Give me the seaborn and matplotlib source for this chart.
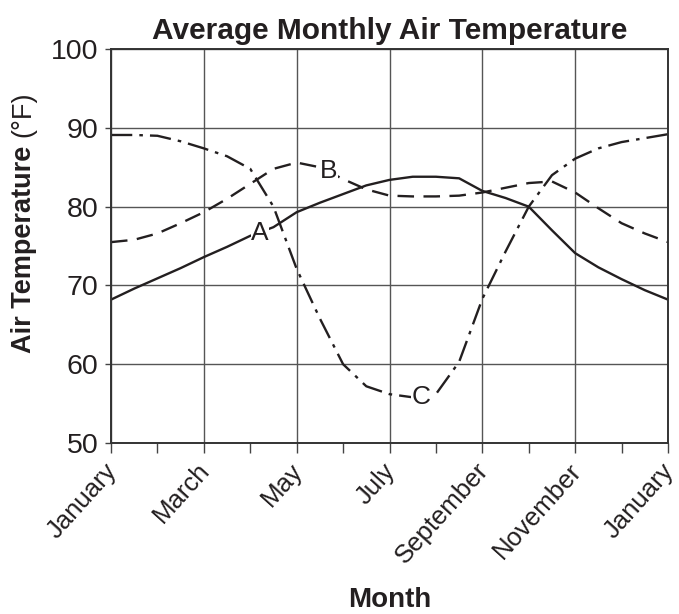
import numpy as np
import pandas as pd
import seaborn as sns
import matplotlib.pyplot as plt
from matplotlib.transforms import ScaledTranslation

# month positions (0 = January, 12 = next January), read every half month
months = [0, 0.5, 1, 1.5, 2, 2.5, 3, 3.5, 4, 4.5, 5, 5.5, 6,
          6.5, 7, 7.5, 8, 8.5, 9, 9.5, 10, 10.5, 11, 11.5, 12]
temp_a = [68.2, 69.6, 70.9, 72.2, 73.6, 74.9, 76.3, 77.4, 79.3, 80.5, 81.6, 82.7, 83.4,
          83.8, 83.8, 83.6, 82.0, 81.1, 80.0, 77.0, 74.1, 72.3, 70.8, 69.4, 68.2]
temp_b = [75.5, 75.8, 76.6, 77.9, 79.3, 81.0, 82.9, 84.8, 85.6, 85.0, 83.5, 82.2, 81.4,
          81.3, 81.3, 81.4, 81.8, 82.4, 83.0, 83.2, 81.8, 79.8, 77.9, 76.6, 75.5]
temp_c = [89.1, 89.1, 89.0, 88.3, 87.4, 86.4, 84.8, 80.0, 72.1, 65.8, 60.0, 57.2, 56.2,
          55.8, 56.2, 60.3, 68.3, 74.3, 80.0, 84.0, 86.1, 87.4, 88.2, 88.7, 89.2]

tick_pos = [0, 2, 4, 6, 8, 10, 12]
tick_labels = ["January", "March", "May", "July", "September", "November", "January"]
y_ticks = [50, 60, 70, 80, 90, 100]

df = pd.DataFrame({"month": months, "A": temp_a, "B": temp_b, "C": temp_c})

sns.set_style("white")
plt.rcParams['font.family'] = ['Liberation Sans', 'DejaVu Sans']

fig = plt.figure(figsize=(6.79, 6.14), dpi=100)
ax = fig.add_axes([0.1635, 0.2785, 0.8203, 0.6415])

ink = "#231f20"
sns.lineplot(data=df, x="month", y="A", ax=ax, color=ink, lw=1.7)
sns.lineplot(data=df, x="month", y="B", ax=ax, color=ink, lw=1.7)
ax.lines[-1].set_dashes([7, 4])
sns.lineplot(data=df, x="month", y="C", ax=ax, color=ink, lw=1.7)
ax.lines[-1].set_dashes([9, 3, 1.5, 3])

# curve labels
for txt, x, y in [("A", 3.21, 76.6), ("B", 4.68, 84.5), ("C", 6.68, 55.8)]:
    ax.text(x, y, txt, fontsize=19, ha="center", va="center", color=ink,
            bbox=dict(facecolor="white", edgecolor="none", pad=0.3))

ax.set_xlim(0, 12)
ax.set_ylim(50, 100)
ax.set_xticks(tick_pos)
ax.set_xticklabels(tick_labels, rotation=48, ha="right", va="center", rotation_mode="anchor",
                   fontsize=18.5, color=ink)
ax.set_xticks(np.arange(0, 13, 1), minor=True)
ax.set_yticks(y_ticks)
ax.set_yticklabels([str(v) for v in y_ticks], fontsize=20.5, color=ink)
ax.tick_params(axis="x", which="both", direction="out", length=7, width=1, color="#444", bottom=True, pad=10)
ax.tick_params(axis="y", direction="out", length=4, width=1, color="#444", left=True, pad=5)

# nudge the slanted month names a little to the right (after tick_params, which resets transforms)
shift = ScaledTranslation(0.02, 0, fig.dpi_scale_trans)
for lab in ax.get_xticklabels():
    lab.set_transform(lab.get_transform() + shift)

ax.grid(True, which="major", color="#555", lw=1)
for s in ax.spines.values():
    s.set_color("#333")
    s.set_linewidth(1.4)

ax.set_xlabel("")
ax.set_ylabel("")
ax.set_title("Average Monthly Air Temperature", fontsize=21.5, fontweight="bold", color=ink, pad=7)

fig.text(0.035, 1 - 353 / 614, "Air Temperature", rotation=90, fontsize=19.5, fontweight="bold",
         color=ink, ha="center", va="bottom")
fig.text(0.035, 1 - 137 / 614, "(°F)", rotation=90, fontsize=19.5, color=ink, ha="center", va="bottom")
fig.text(0.5739, 1 - 600 / 614, "Month", fontsize=20, fontweight="bold", color=ink, ha="center", va="center")

fig.savefig("out.png", dpi=100)
